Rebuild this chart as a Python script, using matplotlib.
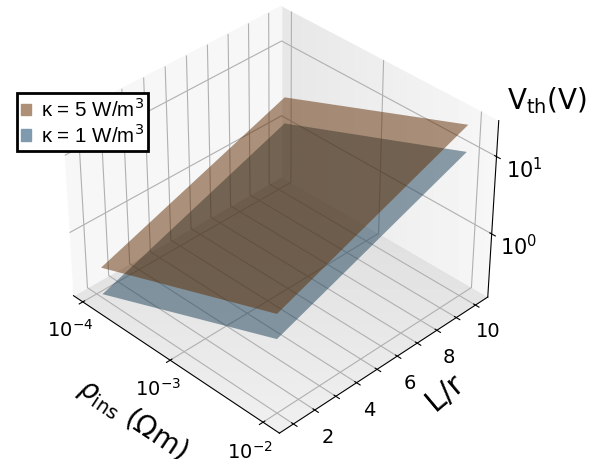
import numpy as np
import matplotlib
matplotlib.use('Agg')
import matplotlib.pyplot as plt
from matplotlib.patches import Patch, Polygon
from mpl_toolkits.mplot3d import proj3d

# log10 of the axis values
rho_log = [-3.93, -2]
lr_vals = [1, 10]
# log10 of V_th at the four corners, rows = rho, cols = L/r
v_high = [[-0.44, 0.46], [0.44, 1.38]]
v_low = [[-0.8, 0.11], [0.12, 1.04]]

rho_ticks = [-4, -3, -2]
rho_labels = ['$\\mathdefault{10^{-4}}$', '$\\mathdefault{10^{-3}}$', '$\\mathdefault{10^{-2}}$']
lr_ticks = [1, 2, 3, 4, 5, 6, 7, 8, 9, 10]
lr_labels = ['', '2', '', '4', '', '6', '', '8', '', '10']
v_ticks = [0, 1]
v_labels = ['$\\mathdefault{10^{0}}$', '$\\mathdefault{10^{1}}$']

color_high = '#602c00'
color_low = '#1a4058'

fig = plt.figure(figsize=(6.03, 4.59), dpi=100)
ax = fig.add_axes([-0.045, 0.028, 1.0, 1.0], projection='3d')
ax.patch.set_alpha(0)

X, Y = np.meshgrid(rho_log, lr_vals, indexing='ij')
ax.plot_surface(X, Y, np.array(v_low), color=color_low, alpha=0.5, shade=False)
ax.plot_surface(X, Y, np.array(v_high), color=color_high, alpha=0.5, shade=False)

xlim = (-4.11, -1.83)
ylim = (0.35, 10.65)
zlim = (-0.85, 1.45)
ax.set_xlim(xlim)
ax.set_ylim(ylim)
ax.set_zlim(zlim)
ax.view_init(elev=36, azim=-44.7)
ax.set_box_aspect((4, 4, 2.9), zoom=1.01)

ax.set_xticks(rho_ticks)
ax.set_xticklabels(rho_labels, fontsize=14)
ax.set_yticks(lr_ticks)
ax.set_yticklabels(lr_labels, fontsize=14)
ax.set_zticks(v_ticks)
ax.set_zticklabels(v_labels, fontsize=15)
ax.tick_params(axis='z', pad=3)
ax.tick_params(axis='x', pad=2)
ax.tick_params(axis='y', pad=2)

ax.set_xlabel('$\\rho_{\\mathrm{ins}}$ ($\\Omega$m)', fontsize=20, labelpad=11)
fig.text(445 / 603, 1 - 392 / 459, 'L/r', fontsize=22, rotation=40, ha='center', va='center')
fig.text(0.908, 0.78, 'V$_{\\mathrm{th}}$(V)', fontsize=20, ha='center', va='center')

# panes with the soft gradient: transparent 3d panes, gradient images clipped to them
ax.xaxis.set_pane_color((0.97, 0.97, 0.97, 1))
ax.yaxis.set_pane_color((1, 1, 1, 0))
ax.zaxis.set_pane_color((1, 1, 1, 0))
fig.canvas.draw()


def pane_polygon(corners):
    xs, ys, zs = zip(*corners)
    px, py, _ = proj3d.proj_transform(np.array(xs), np.array(ys), np.array(zs), ax.get_proj())
    return Polygon(ax.transData.transform(np.column_stack([px, py])), transform=None)


w, h = fig.canvas.get_width_height()
floor_grad = np.tile(np.linspace(0.95, 0.80, h)[:, None], (1, w))
wall_grad = np.tile(np.linspace(1.0, 0.82, w)[None, ::-1], (h, 1))
floor_im = fig.figimage(floor_grad, cmap='gray', vmin=0, vmax=1, zorder=-1, origin='lower')
floor_im.set_clip_path(pane_polygon([(xlim[0], ylim[0], zlim[0]), (xlim[1], ylim[0], zlim[0]),
                                     (xlim[1], ylim[1], zlim[0]), (xlim[0], ylim[1], zlim[0])]))
wall_im = fig.figimage(wall_grad, cmap='gray', vmin=0, vmax=1, zorder=-1, origin='lower')
wall_im.set_clip_path(pane_polygon([(xlim[0], ylim[1], zlim[0]), (xlim[1], ylim[1], zlim[0]),
                                    (xlim[1], ylim[1], zlim[1]), (xlim[0], ylim[1], zlim[1])]))

handles = [Patch(color='#ad9075', label='κ = 5 W/m$^3$'), Patch(color='#7f9aae', label='κ = 1 W/m$^3$')]
leg = fig.legend(handles=handles, loc='upper left', bbox_to_anchor=(0.028, 0.797),
                 fancybox=False, framealpha=1, edgecolor='black', labelspacing=0.1,
                 handlelength=0.5, handleheight=0.5, handletextpad=0.45, borderpad=0.2, borderaxespad=0,
                 prop={'family': 'Liberation Sans', 'size': 14.8})
leg.get_frame().set_linewidth(2)

fig.savefig('out.png', dpi=100)
